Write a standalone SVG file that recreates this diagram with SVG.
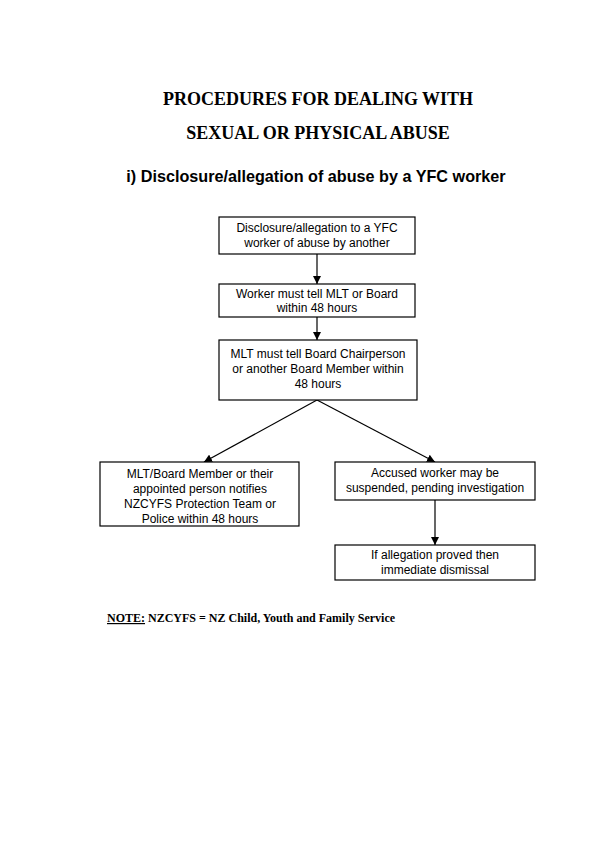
<svg xmlns="http://www.w3.org/2000/svg" width="600" height="849" viewBox="0 0 600 849">
<style>
.box{fill:#fff;stroke:#000;stroke-width:1.2}
.t{font-family:"Liberation Sans",Arial,sans-serif;font-size:12px;text-anchor:middle;fill:#000}
.title{font-family:"Liberation Serif","Times New Roman",serif;font-size:18px;font-weight:bold;text-anchor:middle}
.sub{font-family:"Liberation Sans",Arial,sans-serif;font-size:16.2px;font-weight:bold;text-anchor:middle}
.note{font-family:"Liberation Serif","Times New Roman",serif;font-size:12px;font-weight:bold}
.c{stroke:#000;stroke-width:1.2;fill:none;marker-end:url(#ah)}
</style>
<defs>
<marker id="ah" markerWidth="8" markerHeight="8" refX="8" refY="4" orient="auto" markerUnits="userSpaceOnUse">
<path d="M0,0 L8,4 L0,8 Z" fill="#000"/>
</marker>
</defs>
<rect width="600" height="849" fill="#fff"/>
<text class="title" x="318" y="105">PROCEDURES FOR DEALING WITH</text>
<text class="title" x="318" y="139">SEXUAL OR PHYSICAL ABUSE</text>
<text class="sub" x="316" y="182">i) Disclosure/allegation of abuse by a YFC worker</text>
<g id="connectors">
<line class="c" x1="317" y1="254" x2="317" y2="284"/>
<line class="c" x1="317" y1="317" x2="317" y2="340"/>
<line class="c" x1="317" y1="400" x2="204" y2="462"/>
<line class="c" x1="317" y1="400" x2="435" y2="462"/>
<line class="c" x1="435" y1="500" x2="435" y2="545"/>
</g>
<g id="n1"><rect class="box" x="219" y="217" width="196" height="37"/>
<text class="t" x="317" y="232">Disclosure/allegation to a YFC</text>
<text class="t" x="317" y="247">worker of abuse by another</text></g>
<g id="n2"><rect class="box" x="219" y="284" width="196" height="33"/>
<text class="t" x="317" y="298">Worker must tell MLT or Board</text>
<text class="t" x="317" y="312">within 48 hours</text></g>
<g id="n3"><rect class="box" x="219" y="340" width="198" height="60"/>
<text class="t" x="318" y="358">MLT must tell Board Chairperson</text>
<text class="t" x="318" y="373">or another Board Member within</text>
<text class="t" x="318" y="388">48 hours</text></g>
<g id="n4"><rect class="box" x="100" y="462" width="199" height="64"/>
<text class="t" x="200" y="478">MLT/Board Member or their</text>
<text class="t" x="200" y="493">appointed person notifies</text>
<text class="t" x="200" y="508">NZCYFS Protection Team or</text>
<text class="t" x="200" y="523">Police within 48 hours</text></g>
<g id="n5"><rect class="box" x="335" y="462" width="200" height="38"/>
<text class="t" x="435" y="477">Accused worker may be</text>
<text class="t" x="435" y="492">suspended, pending investigation</text></g>
<g id="n6"><rect class="box" x="335" y="545" width="200" height="35"/>
<text class="t" x="435" y="559">If allegation proved then</text>
<text class="t" x="435" y="574">immediate dismissal</text></g>
<text class="note" x="107" y="622"><tspan text-decoration="underline">NOTE:</tspan> NZCYFS = NZ Child, Youth and Family Service</text>
</svg>
